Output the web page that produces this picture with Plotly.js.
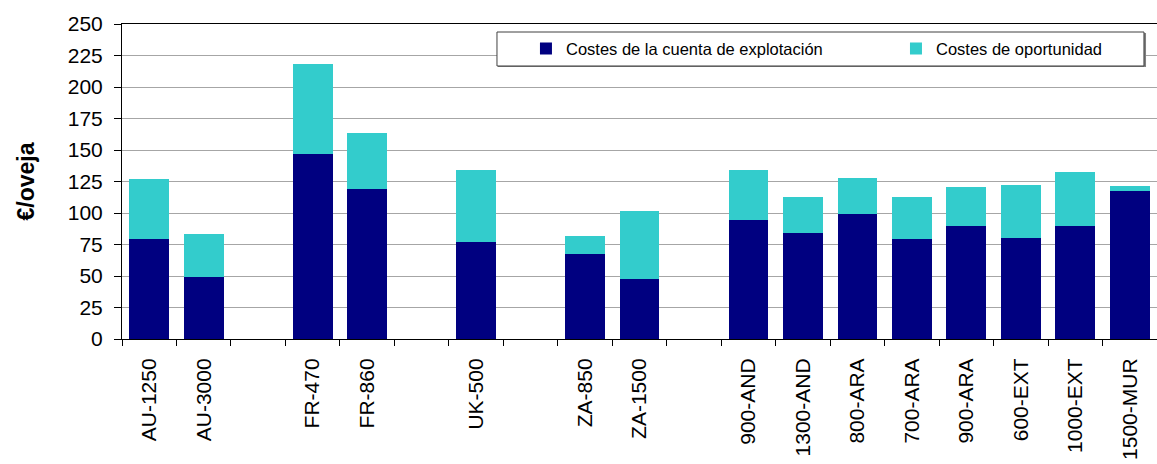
<!DOCTYPE html>
<html>
<head>
<meta charset="utf-8">
<script src="https://cdn.plot.ly/plotly-3.0.1.min.js"></script>
<style>html,body{margin:0;padding:0;background:#fff;overflow:hidden}#chart{width:1157px;height:464px}</style>
</head>
<body>
<div id="chart"></div>
<script>
// Categories (blank slots are the gaps between country groups)
const categories = ["AU-1250","AU-3000"," ","FR-470","FR-860","  ","UK-500","   ","ZA-850","ZA-1500","    ",
  "900-AND","1300-AND","800-ARA","700-ARA","900-ARA","600-EXT","1000-EXT","1500-MUR"];
const costesExplotacion = [79,49,null,147,119,null,77,null,67.5,47.7,null,94.5,84.2,99.3,79.4,89.8,80.2,89.8,117.6];
const costesOportunidad = [48,34.5,null,71,44.5,null,57,null,14.3,54,null,39.7,28.6,28.6,33.4,31,42,42.8,4];
const seriesNames = ["Costes de la cuenta de explotación","Costes de oportunidad"];
const yTickVals = [0,25,50,75,100,125,150,175,200,225,250];

const FONT = "Liberation Sans, Arial, sans-serif";

const traces = [
  {type:"bar", name:seriesNames[0], x:categories, y:costesExplotacion, marker:{color:"#000080"}, legend:"legend", hoverinfo:"x+y+name"},
  {type:"bar", name:seriesNames[1], x:categories, y:costesOportunidad, marker:{color:"#33CCCC"}, legend:"legend2", hoverinfo:"x+y+name"}
];

const legendBase = {orientation:"h", xanchor:"left", y:0.921, yanchor:"middle",
  bgcolor:"rgba(0,0,0,0)", borderwidth:0, font:{family:FONT, size:16.5, color:"#000"}};

const layout = {
  width:1157, height:464,
  margin:{l:122, r:0, t:24, b:125, pad:0},
  paper_bgcolor:"#fff", plot_bgcolor:"#fff",
  barmode:"stack", bargap:0.27,
  font:{family:FONT, color:"#000", size:21},
  showlegend:true,
  legend:Object.assign({}, legendBase, {x:0.3903}),
  legend2:Object.assign({}, legendBase, {x:0.7478}),
  xaxis:{type:"category", categoryorder:"array", categoryarray:categories,
    range:[-0.5, categories.length-0.5],
    showline:true, linecolor:"#000", linewidth:1, mirror:true,
    ticks:"outside", ticklen:6, tickcolor:"#000", tickwidth:1, tickson:"boundaries",
    ticklabelstandoff:10,
    tickangle:-90, showgrid:false, zeroline:false, fixedrange:true,
    tickfont:{family:FONT, size:21, color:"#000"}},
  yaxis:{range:[0,250], tickmode:"array", tickvals:yTickVals,
    showline:true, linecolor:"#000", linewidth:1, mirror:false,
    ticks:"outside", ticklen:7, tickcolor:"#000", ticklabelstandoff:7,
    showgrid:true, gridcolor:"#a6a6a6", gridwidth:1, zeroline:false,
    tickfont:{family:FONT, size:21, color:"#000"},
    title:{text:"€/oveja", font:{family:FONT, size:23, color:"#000", weight:"bold"}, standoff:26}},
  shapes:[
    {type:"rect", xref:"paper", yref:"paper", x0:0.3633, x1:0.9894, y0:0.8635, y1:0.9714,
      line:{width:0}, fillcolor:"#808080", layer:"above"},
    {type:"rect", xref:"paper", yref:"paper", x0:0.3623, x1:0.9874, y0:0.8667, y1:0.9746,
      line:{color:"#404040", width:1}, fillcolor:"#fff", layer:"above"}
  ]
};

Plotly.newPlot("chart", traces, layout, {displayModeBar:false, staticPlot:true});
</script>
</body>
</html>
